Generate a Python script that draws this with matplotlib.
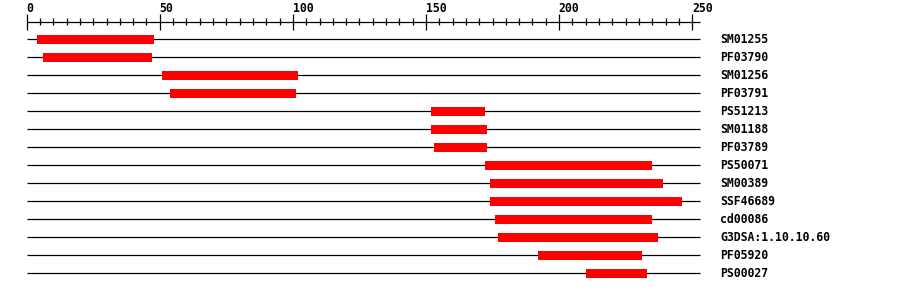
import matplotlib
matplotlib.use('Agg')
import matplotlib.pyplot as plt

# Domain hits along the sequence (start, end) in residues
names = ['SM01255', 'PF03790', 'SM01256', 'PF03791', 'PS51213', 'SM01188',
         'PF03789', 'PS50071', 'SM00389', 'SSF46689', 'cd00086',
         'G3DSA:1.10.10.60', 'PF05920', 'PS00027']
starts = [4, 6, 51, 54, 152, 152, 153, 172, 174, 174, 176, 177, 192, 210]
ends = [48, 47, 102, 101, 172, 173, 173, 235, 239, 246, 235, 237, 231, 233]
seq_len = 253
major_ticks = [0, 50, 100, 150, 200, 250]

# pixel mapping: x=0 at px 26.7, 2.662 px per residue
px0, scale = 26.7, 2.662
W, H = 900, 292

fig = plt.figure(figsize=(W / 100, H / 100), dpi=100)
ax = fig.add_axes([0, 0, 1, 1])
ax.set_xlim(-px0 / scale, (W - px0) / scale)
ax.set_ylim(H, 0)
ax.axis('off')

mono = 'DejaVu Sans Mono'

# ruler on top
axis_y = 21.7
ax.hlines(axis_y, 0, seq_len, color='black', lw=0.9)
for t in range(0, 251, 5):
    if t % 50 == 0:
        ax.vlines(t, 14, 29.5, color='black', lw=0.9)
    else:
        ax.vlines(t, 18.3, 25.3, color='black', lw=0.9)
for t in major_ticks:
    ax.text(t - 0.1, 12.3, str(t), ha='left', va='baseline',
            fontsize=8.3, family=mono, fontweight='bold')

# one row per domain
row0, step = 39.3, 18
for i, (n, s, e) in enumerate(zip(names, starts, ends)):
    y = row0 + step * i
    ax.hlines(y, 0, seq_len, color='black', lw=0.9, zorder=2)
    ax.fill_between([s, e], y - 4.5, y + 4.5, color='#ff0000', lw=0, zorder=3)
    ax.text((720 - px0) / scale, y + 4.1, n, ha='left', va='baseline',
            fontsize=8.3, family=mono, fontweight='bold')

fig.savefig('out.png', dpi=100)
